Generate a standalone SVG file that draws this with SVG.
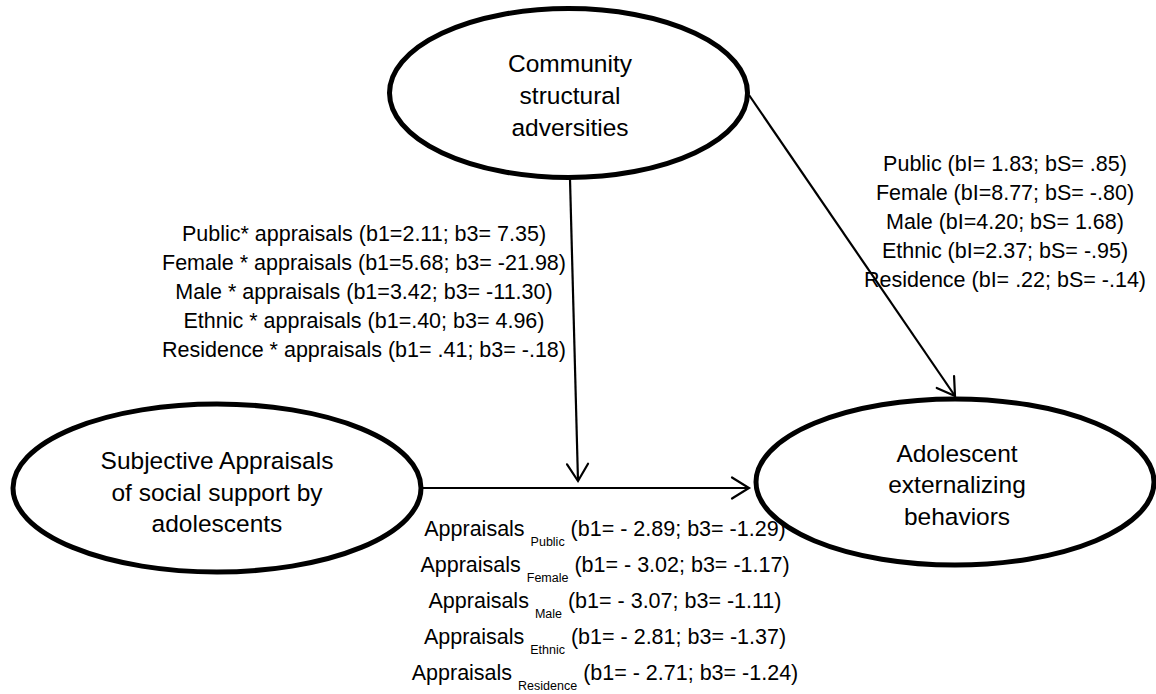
<svg xmlns="http://www.w3.org/2000/svg" width="1156" height="694" viewBox="0 0 1156 694">
  <defs>
    <!-- open V arrowhead used by all paths -->
    <marker id="arrow" markerUnits="userSpaceOnUse" markerWidth="24" markerHeight="26" viewBox="-20 -13 24 26" refX="0" refY="0" orient="auto">
      <path d="M -17 -10.5 L 0 0 L -17 10.5" fill="none" stroke="#000" stroke-width="2.2" stroke-linecap="round" stroke-linejoin="miter"/>
    </marker>
    <style>
      .node { fill: #fff; stroke: #000; stroke-width: 5; }
      .node-label { font-family: "Liberation Sans", Arial, sans-serif; font-size: 24.5px; fill: #000; text-anchor: middle; }
      .edge { fill: none; stroke: #000; stroke-width: 2.2; marker-end: url(#arrow); }
      .edge-label { font-family: "Liberation Sans", Arial, sans-serif; font-size: 21.5px; fill: #000; text-anchor: middle; }
      .sub { font-size: 12.5px; }
    </style>
  </defs>

  <rect x="0" y="0" width="1156" height="694" fill="#fff"/>

  <!-- coefficient labels -->
  <g id="labels">
    <g id="label-moderation">
      <text class="edge-label" x="364" y="241">Public* appraisals (b1=2.11; b3= 7.35)</text>
      <text class="edge-label" x="364" y="270">Female * appraisals (b1=5.68; b3= -21.98)</text>
      <text class="edge-label" x="364" y="299">Male * appraisals (b1=3.42; b3= -11.30)</text>
      <text class="edge-label" x="364" y="328">Ethnic * appraisals (b1=.40; b3= 4.96)</text>
      <text class="edge-label" x="364" y="357">Residence * appraisals (b1= .41; b3= -.18)</text>
    </g>
    <g id="label-direct">
      <text class="edge-label" x="1005" y="171">Public (bI= 1.83; bS= .85)</text>
      <text class="edge-label" x="1005" y="200">Female (bI=8.77; bS= -.80)</text>
      <text class="edge-label" x="1005" y="229">Male (bI=4.20; bS= 1.68)</text>
      <text class="edge-label" x="1005" y="258">Ethnic (bI=2.37; bS= -.95)</text>
      <text class="edge-label" x="1005" y="287">Residence (bI= .22; bS= -.14)</text>
    </g>
    <g id="label-appraisals">
      <text class="edge-label" x="605" y="536">Appraisals <tspan class="sub" dy="10">Public</tspan><tspan dy="-10"> (b1= - 2.89; b3= -1.29)</tspan></text>
      <text class="edge-label" x="605" y="572">Appraisals <tspan class="sub" dy="10">Female</tspan><tspan dy="-10"> (b1= - 3.02; b3= -1.17)</tspan></text>
      <text class="edge-label" x="605" y="608">Appraisals <tspan class="sub" dy="10">Male</tspan><tspan dy="-10"> (b1= - 3.07; b3= -1.11)</tspan></text>
      <text class="edge-label" x="605" y="644">Appraisals <tspan class="sub" dy="10">Ethnic</tspan><tspan dy="-10"> (b1= - 2.81; b3= -1.37)</tspan></text>
      <text class="edge-label" x="605" y="680">Appraisals <tspan class="sub" dy="10">Residence</tspan><tspan dy="-10"> (b1= - 2.71; b3= -1.24)</tspan></text>
    </g>
  </g>

  <!-- paths between constructs -->
  <g id="connectors">
    <line class="edge" x1="570" y1="179" x2="578" y2="481"/>
    <line class="edge" x1="423" y1="488" x2="749" y2="488"/>
    <line class="edge" x1="749" y1="95" x2="955" y2="396"/>
  </g>

  <!-- constructs -->
  <g id="node-community">
    <ellipse class="node" cx="568.5" cy="93" rx="179" ry="84.5"/>
    <text class="node-label" x="570" y="72">Community</text>
    <text class="node-label" x="570" y="104">structural</text>
    <text class="node-label" x="570" y="136">adversities</text>
  </g>

  <g id="node-appraisals">
    <ellipse class="node" cx="217" cy="488" rx="204" ry="84"/>
    <text class="node-label" x="217" y="469">Subjective Appraisals</text>
    <text class="node-label" x="217" y="501">of social support by</text>
    <text class="node-label" x="217" y="532">adolescents</text>
  </g>

  <g id="node-externalizing">
    <ellipse class="node" cx="955" cy="482" rx="199" ry="83" style="fill:none"/>
    <text class="node-label" x="957" y="462">Adolescent</text>
    <text class="node-label" x="957" y="493">externalizing</text>
    <text class="node-label" x="957" y="525">behaviors</text>
  </g>
</svg>
